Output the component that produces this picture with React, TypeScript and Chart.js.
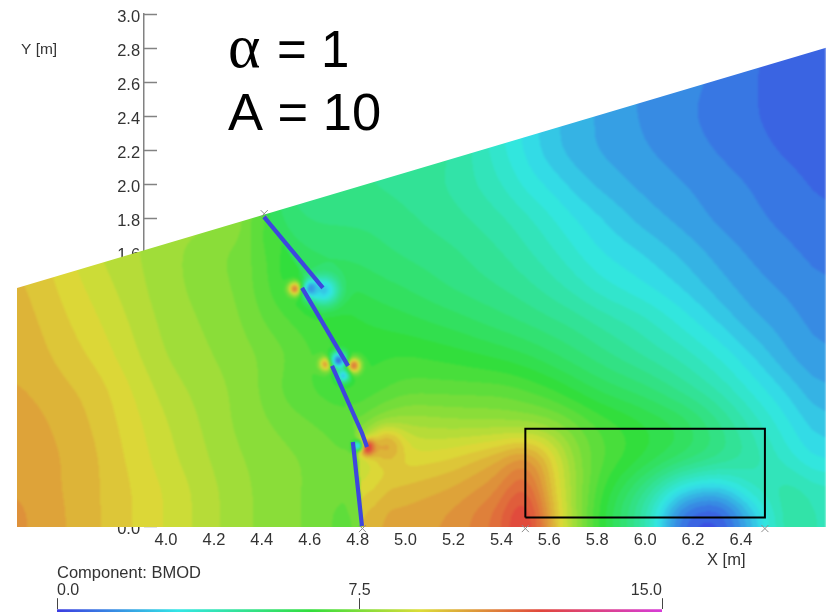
import React, { useEffect, useRef } from "react";
import { Chart, registerables } from "chart.js";

Chart.register(...registerables);

// Field sample positions (metres)
const gridX = [3.4, 3.7, 4.0, 4.3, 4.45, 4.5, 4.6, 4.78, 4.86, 5.0, 5.2, 5.4, 5.5, 5.6, 5.7, 5.8, 6.0, 6.15, 6.3, 6.45, 6.6, 6.8];
const gridY = [0, 0.1, 0.2, 0.4, 0.6, 0.8, 1.0, 1.2, 1.4, 1.6, 1.8, 2.0, 2.2, 2.4, 2.6, 2.8];

// BMOD, one row per gridY entry
const row00 = [10.4, 9.7, 8.9, 8.0, 7.7, 7.6, 7.5, 6.8, 10.2, 10.2, 10.5, 11.3, 12.8, 10.3, 8, 6.5, 4.2, 0.4, 0, 2, 4.6, 3.5];
const row01 = [10.4, 9.7, 8.9, 8.0, 7.7, 7.6, 7.5, 6.9, 10, 10, 10.3, 11.1, 12.6, 10, 8, 6.5, 4.2, 1.2, 0.4, 2.6, 4.5, 3.5];
const row02 = [10.3, 9.7, 8.9, 8.0, 7.7, 7.6, 7.5, 7.0, 9.6, 9.8, 10.1, 10.7, 12, 9.7, 8, 6.7, 4.7, 2.6, 2.1, 3.7, 4.4, 3.5];
const row04 = [10.3, 9.7, 8.7, 7.9, 7.7, 7.6, 7.5, 7.1, 8.8, 9, 9.3, 10, 10.8, 9.5, 7.8, 7.0, 6.2, 5.6, 5, 4.3, 3.4, 2.5];
const row06 = [10.2, 9.6, 8.6, 7.8, 7.5, 7.4, 7.2, 6.9, 7.6, 8.2, 8, 7.9, 7.8, 7.7, 7.3, 6.8, 6.2, 5.8, 4.9, 3.9, 3, 2];
const row08 = [10, 9.5, 8.4, 7.8, 7.3, 7, 6.8, 6.5, 6.6, 7, 7, 7, 6.8, 6.5, 6.1, 5.7, 5.2, 4.6, 4, 3.2, 2.5, 1.6];
const row10 = [9.9, 9.2, 8.2, 7.7, 7.4, 7.2, 6.9, 6.3, 6.4, 6.5, 6.3, 6, 5.8, 5.5, 5.2, 4.9, 4.3, 3.9, 3.3, 2.6, 1.9, 1.4];
const row12 = [9.8, 9, 8.1, 7.6, 7, 6.9, 6.6, 6.2, 6.1, 5.9, 5.6, 5.2, 5, 4.8, 4.6, 4.3, 3.8, 3.2, 2.6, 2, 1.7, 1.3];
const row14 = [9.7, 8.8, 8, 7.5, 6.7, 6.4, 6, 5.8, 5.6, 5.4, 5, 4.7, 4.5, 4.2, 3.9, 3.5, 3, 2.6, 2.1, 1.7, 1.5, 1.1];
const row16 = [9.6, 8.6, 8, 7.4, 6.8, 5.9, 5.4, 5.3, 5.2, 5, 4.8, 4.4, 4.1, 3.8, 3.4, 3, 2.6, 2.2, 1.8, 1.5, 1.3, 1];
const row18 = [9.5, 8.5, 8, 8, 5.8, 5.2, 5, 5, 5, 4.8, 4.5, 4.1, 3.8, 3.4, 3, 2.7, 2.1, 1.8, 1.5, 1.3, 1.1, 0.8];
const row20 = [9.5, 8.5, 8, 8, 5, 5, 4.9, 4.8, 4.7, 4.6, 4.3, 3.7, 3.2, 2.9, 2.5, 2.2, 1.8, 1.6, 1.4, 1.2, 1, 0.7];
const row22 = [9.5, 8.5, 8, 8, 5, 5, 4.9, 4.8, 4.7, 4.6, 4.4, 3.4, 2.9, 2.4, 2.1, 1.9, 1.6, 1.4, 1.2, 1, 0.8, 0.6];
const row24 = [9.5, 8.5, 8, 8, 5, 5, 4.9, 4.8, 4.7, 4.6, 4.4, 3.3, 2.9, 2.4, 2.1, 1.9, 1.5, 1.3, 1.1, 0.9, 0.7, 0.55];
const row26 = [9.5, 8.5, 8, 8, 5, 5, 4.9, 4.8, 4.7, 4.6, 4.4, 3.3, 2.9, 2.4, 2.1, 1.9, 1.5, 1.3, 1.2, 0.9, 0.7, 0.5];
const row28 = [9.5, 8.5, 8, 8, 5, 5, 4.9, 4.8, 4.7, 4.6, 4.4, 3.3, 2.9, 2.4, 2.1, 1.9, 1.5, 1.3, 1.2, 0.9, 0.7, 0.5];
const gridRows = [row00, row01, row02, row04, row06, row08, row10, row12, row14, row16, row18, row20, row22, row24, row26, row28];

// Local extremes at the blade tips
const spotX = [4.54, 4.61, 4.66, 4.78, 4.67, 4.72, 4.74, 4.92, 4.84, 4.8];
const spotY = [1.39, 1.39, 1.38, 0.94, 0.95, 0.97, 0.88, 0.46, 0.46, 0.47];
const spotV = [11.2, 0.6, 2.5, 11.4, 11, 1, 2.5, 10, 12.6, 2.5];
const spotR = [0.04, 0.05, 0.09, 0.045, 0.04, 0.05, 0.04, 0.11, 0.045, 0.03];

// Upper edge of the model region and its lower limit
const edgeX = [3.378, 6.755];
const edgeY = [1.395, 2.802];
const edgeBase = -0.006;

// Blade segments, the line that separates the two sides, rectangle and markers
const bladeX = [4.409, 4.655, null, 4.568, 4.76, null, 4.693, 4.818, 4.839, null, 4.78, 4.818];
const bladeY = [1.811, 1.395, null, 1.395, 0.938, null, 0.938, 0.545, 0.463, null, 0.492, 0];
const sideY = [0, 0.47, 0.94, 1.39, 1.82];
const sideX = [4.82, 4.8, 4.72, 4.61, 4.41];
const boxX = [5.5, 6.5, 6.5, 5.5, 5.5];
const boxY = [0.05, 0.05, 0.57, 0.57, 0.05];
const markX = [4.41, 4.82, 5.5, 6.5];
const markY = [1.83, -0.015, -0.015, -0.015];

// Axes
const xTickValues = [4.0, 4.2, 4.4, 4.6, 4.8, 5.0, 5.2, 5.4, 5.6, 5.8, 6.0, 6.2, 6.4];
const yTickValues = [0, 0.2, 0.4, 0.6, 0.8, 1.0, 1.2, 1.4, 1.6, 1.8, 2.0, 2.2, 2.4, 2.6, 2.8, 3.0];
const legendTicks = [0, 7.5, 15];

// Colour legend
const stopV = [0, 3, 6.3, 9, 12, 15];
const stopR = [60, 50, 50, 220, 225, 215];
const stopG = [60, 230, 222, 220, 70, 60];
const stopB = [225, 230, 60, 55, 60, 215];
const bandStep = 0.35;
const smoothRadius = 13;

const SANS = "'Liberation Sans', Arial, sans-serif";

function colorAt(v: number): [number, number, number] {
  const t = Math.max(0, Math.min(15, v));
  let i = 0;
  while (i < stopV.length - 2 && t > stopV[i + 1]) i++;
  const f = (t - stopV[i]) / (stopV[i + 1] - stopV[i]);
  return [
    stopR[i] + (stopR[i + 1] - stopR[i]) * f,
    stopG[i] + (stopG[i + 1] - stopG[i]) * f,
    stopB[i] + (stopB[i + 1] - stopB[i]) * f,
  ];
}

function bracket(list: number[], v: number): [number, number] {
  let i = 0;
  while (i < list.length - 2 && v > list[i + 1]) i++;
  const f = Math.max(0, Math.min(1, (v - list[i]) / (list[i + 1] - list[i])));
  return [i, f];
}

function gridAt(x: number, y: number): number {
  const [ix, fx] = bracket(gridX, x);
  const [iy, fy] = bracket(gridY, y);
  const a = gridRows[iy][ix] * (1 - fx) + gridRows[iy][ix + 1] * fx;
  const b = gridRows[iy + 1][ix] * (1 - fx) + gridRows[iy + 1][ix + 1] * fx;
  return a * (1 - fy) + b * fy;
}

function sideAt(x: number, y: number): number {
  if (y > sideY[sideY.length - 1]) return 1;
  const [i, f] = bracket(sideY, y);
  return x < sideX[i] + (sideX[i + 1] - sideX[i]) * f ? 0 : 1;
}

function smooth(src: Float32Array, side: Uint8Array, w: number, r: number, stride: number, lines: number, len: number) {
  const out = new Float32Array(src.length);
  const lineStep = stride === 1 ? w : 1;
  for (let l = 0; l < lines; l++) {
    const base = l * lineStep;
    for (let p = 0; p < len; p++) {
      const k = base + p * stride;
      const a = Math.max(0, p - r);
      const b = Math.min(len - 1, p + r);
      let sum = 0;
      let n = 0;
      for (let q = a; q <= b; q++) {
        const kq = base + q * stride;
        if (side[kq] === side[k]) {
          sum += src[kq];
          n++;
        }
      }
      out[k] = sum / n;
    }
  }
  return out;
}

const fieldPlugin = {
  id: "field",
  beforeDatasetsDraw(chart: any) {
    const { ctx, scales, width, height } = chart;
    const sx = scales.x;
    const sy = scales.y;
    const bottom = Math.ceil(sy.getPixelForValue(0)) + 3;
    const aspect = (sx.getPixelForValue(1) - sx.getPixelForValue(0)) / (sy.getPixelForValue(0) - sy.getPixelForValue(1));
    const raw0 = new Float32Array(width * bottom);
    const side = new Uint8Array(width * bottom);
    for (let py = 0; py < bottom; py++) {
      const y = sy.getValueForPixel(py + 0.5);
      for (let px = 0; px < width; px++) {
        const x = sx.getValueForPixel(px + 0.5);
        raw0[py * width + px] = gridAt(x, y);
        side[py * width + px] = sideAt(x, y);
      }
    }
    let raw = raw0;
    for (let pass = 0; pass < 2; pass++) {
      raw = smooth(raw, side, width, smoothRadius, 1, bottom, width);
      raw = smooth(raw, side, width, smoothRadius, width, width, bottom);
    }
    const off = document.createElement("canvas");
    off.width = width;
    off.height = height;
    const oc = off.getContext("2d")!;
    const img = oc.createImageData(width, height);
    for (let py = 0; py < bottom; py++) {
      const y = sy.getValueForPixel(py + 0.5);
      for (let px = 0; px < width; px++) {
        const x = sx.getValueForPixel(px + 0.5);
        let v = raw[py * width + px];
        for (let s = 0; s < spotX.length; s++) {
          const dx = (x - spotX[s]) * aspect;
          const dy = y - spotY[s];
          const w = Math.exp(-(dx * dx + dy * dy) / (spotR[s] * spotR[s]));
          v += (spotV[s] - v) * w;
        }
        const [r, g, b] = colorAt(Math.round(v / bandStep) * bandStep);
        const k = (py * width + px) * 4;
        img.data[k] = r;
        img.data[k + 1] = g;
        img.data[k + 2] = b;
        img.data[k + 3] = 255;
      }
    }
    oc.putImageData(img, 0, 0);
    ctx.save();
    ctx.beginPath();
    ctx.moveTo(sx.getPixelForValue(edgeX[0]), sy.getPixelForValue(edgeBase));
    ctx.lineTo(sx.getPixelForValue(edgeX[0]), sy.getPixelForValue(edgeY[0]));
    ctx.lineTo(sx.getPixelForValue(edgeX[1]), sy.getPixelForValue(edgeY[1]));
    ctx.lineTo(sx.getPixelForValue(edgeX[1]), sy.getPixelForValue(edgeBase));
    ctx.closePath();
    ctx.clip();
    ctx.filter = "blur(0.8px)";
    ctx.drawImage(off, 0, 0);
    ctx.restore();
  },
};

const textPlugin = {
  id: "freeText",
  afterDraw(chart: any) {
    const { ctx } = chart;
    ctx.save();
    ctx.textBaseline = "alphabetic";
    ctx.textAlign = "left";
    ctx.fillStyle = "#000";
    ctx.font = "62px 'Liberation Serif', serif";
    ctx.fillText("\u03b1", 228, 67);
    ctx.font = `51px ${SANS}`;
    ctx.fillText("= 1", 277, 67);
    ctx.font = `52.5px ${SANS}`;
    ctx.fillText("A = 10", 228, 130);
    ctx.fillStyle = "#333";
    ctx.font = `15.5px ${SANS}`;
    ctx.fillText("Y [m]", 21, 54);
    ctx.font = `16.5px ${SANS}`;
    ctx.fillText("X [m]", 707, 565);
    ctx.fillText("Component: BMOD", 57, 578);
    ctx.restore();
  },
};

const toPoints = (xs: (number | null)[], ys: (number | null)[]) =>
  xs.map((x, i) => ({ x: x === null ? NaN : x, y: ys[i] === null ? NaN : ys[i] }));

const fieldPoints = gridRows.flatMap((row, j) => row.map((_, i) => ({ x: gridX[i], y: gridY[j] })));

const setYTicks = (s: any) => {
  s.ticks = yTickValues.map((value) => ({ value }));
};

export default function App() {
  const mainRef = useRef<HTMLCanvasElement>(null);
  const legendRef = useRef<HTMLCanvasElement>(null);

  useEffect(() => {
    const main = new Chart(mainRef.current!, {
      type: "scatter",
      plugins: [fieldPlugin, textPlugin],
      data: {
        datasets: [
          { label: "BMOD", data: fieldPoints, pointRadius: 0, showLine: false },
          {
            label: "Blades",
            data: toPoints(bladeX, bladeY),
            showLine: true,
            spanGaps: false,
            borderColor: "rgb(62,70,222)",
            borderWidth: 4.2,
            pointRadius: 0,
            clip: false,
          },
          {
            label: "Region",
            data: toPoints(boxX, boxY),
            showLine: true,
            borderColor: "#000",
            borderWidth: 2,
            pointRadius: 0,
            clip: false,
          },
          {
            label: "Marks",
            data: toPoints(markX, markY),
            showLine: false,
            pointStyle: "crossRot",
            pointRadius: 5,
            borderColor: "rgb(140,140,140)",
            borderWidth: 1,
            clip: false,
          },
        ] as any,
      },
      options: {
        responsive: false,
        animation: false,
        events: [],
        layout: { autoPadding: false, padding: { left: 17, right: 0, top: 14, bottom: 86 } },
        plugins: { legend: { display: false }, tooltip: { enabled: false }, title: { display: false } },
        scales: {
          x: {
            type: "linear",
            min: 3.378,
            max: 6.755,
            position: { y: 0 } as any,
            border: { display: false },
            grid: { display: false, drawTicks: false },
            afterBuildTicks: (s: any) => {
              s.ticks = xTickValues.map((value) => ({ value }));
            },
            ticks: {
              color: "#333",
              padding: 5,
              maxRotation: 0,
              autoSkip: false,
              font: { family: SANS, size: 16.5 },
              callback: (v: any) => Number(v).toFixed(1),
            },
          },
          y: {
            type: "linear",
            min: 0,
            max: 3,
            position: { x: 3.963 } as any,
            border: { display: false },
            grid: { drawOnChartArea: false, drawTicks: true, tickLength: 13, tickWidth: 1.5, tickColor: "rgb(130,130,130)" },
            afterBuildTicks: setYTicks,
            ticks: { display: false, autoSkip: false },
          },
          yLabels: {
            type: "linear",
            axis: "y",
            min: 0.0176,
            max: 3.0176,
            position: { x: 3.892 } as any,
            border: { display: false },
            grid: { display: false, drawTicks: false },
            afterBuildTicks: setYTicks,
            ticks: {
              color: "#333",
              autoSkip: false,
              font: { family: SANS, size: 16.5 },
              callback: (v: any) => Number(v).toFixed(1),
            },
          },
          yLine: {
            type: "linear",
            axis: "y",
            min: 0,
            max: 3,
            position: { x: 3.909 } as any,
            border: { display: true, color: "rgb(130,130,130)", width: 1.5 },
            grid: { display: false, drawTicks: false },
            ticks: { display: false },
          },
        } as any,
      },
    });

    const legend = new Chart(legendRef.current!, {
      type: "scatter",
      data: {
        datasets: [
          {
            label: "Scale",
            data: [
              { x: 0, y: 0.94 },
              { x: 15, y: 0.94 },
            ],
            showLine: true,
            pointRadius: 0,
            borderWidth: 4,
            clip: false,
            borderCapStyle: "butt",
            borderColor: (c: any) => {
              const sx = c.chart.scales.x;
              const a = sx ? sx.getPixelForValue(0) : NaN;
              const b = sx ? sx.getPixelForValue(15) : NaN;
              if (!Number.isFinite(a) || !Number.isFinite(b)) return "#000";
              const g = c.chart.ctx.createLinearGradient(a, 0, b, 0);
              stopV.forEach((v, i) => g.addColorStop(v / 15, `rgb(${stopR[i]},${stopG[i]},${stopB[i]})`));
              return g;
            },
          },
        ] as any,
      },
      options: {
        responsive: false,
        animation: false,
        events: [],
        layout: { autoPadding: false, padding: { left: 57, right: 164, top: 0, bottom: 0 } },
        plugins: { legend: { display: false }, tooltip: { enabled: false } },
        scales: {
          x: {
            type: "linear",
            position: "top",
            min: 0,
            max: 15,
            border: { display: false },
            afterBuildTicks: (s: any) => {
              s.ticks = legendTicks.map((value) => ({ value }));
            },
            grid: { drawOnChartArea: false, tickLength: 11, tickColor: "#444", tickWidth: 1 },
            ticks: {
              color: "#333",
              align: "inner",
              padding: -2,
              maxRotation: 0,
              autoSkip: false,
              font: { family: SANS, size: 16 },
              callback: (v: any) => Number(v).toFixed(1),
            },
          },
          y: { display: false, min: 0, max: 1 },
        } as any,
      },
    });

    return () => {
      main.destroy();
      legend.destroy();
    };
  }, []);

  return (
    <div style={{ position: "absolute", left: 0, top: 0, width: 826, height: 612, overflow: "hidden", background: "#fff" }}>
      <canvas ref={mainRef} width={826} height={612} style={{ position: "absolute", left: 0, top: 0 }} />
      <canvas ref={legendRef} width={826} height={60} style={{ position: "absolute", left: 0, top: 583 }} />
    </div>
  );
}
